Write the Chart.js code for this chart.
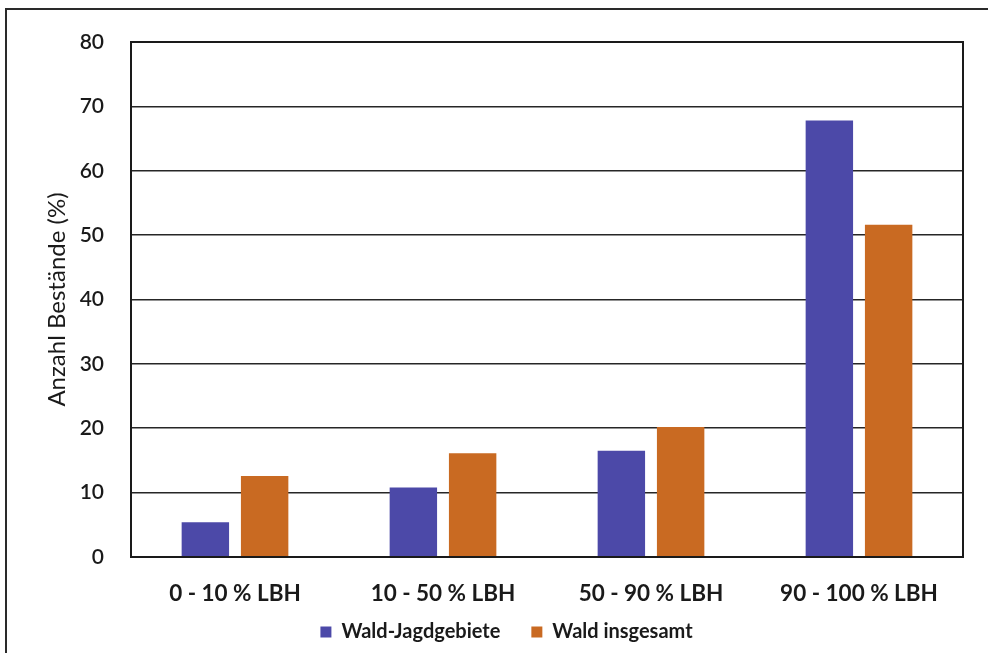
<!DOCTYPE html>
<html lang="de">
<head>
<meta charset="utf-8">
<title>Anzahl Bestände nach LBH-Klasse</title>
<script src="https://cdn.jsdelivr.net/npm/chart.js@4.4.1/dist/chart.umd.min.js"></script>
<style>
  html, body { margin: 0; padding: 0; background: #ffffff; }
  #wrap { position: relative; width: 988px; height: 653px; overflow: hidden; }
  #frame { position: absolute; left: 5px; top: 8px; width: 1000px; height: 700px;
           border-left: 2px solid #2a2a2a; border-top: 2px solid #2a2a2a; box-sizing: border-box; }
  canvas { position: absolute; left: 0; top: 0; }
</style>
</head>
<body>
<div id="wrap">
  <div id="frame"></div>
  <canvas id="chart" width="988" height="653"></canvas>
</div>
<script>
// LBH classes (Laubholzanteil) on the category axis
const categories = ['0 - 10 % LBH', '10 - 50 % LBH', '50 - 90 % LBH', '90 - 100 % LBH'];
// share of stands per class, in percent
const waldJagdgebiete = [5.4, 10.8, 16.5, 67.8];
const waldInsgesamt = [12.6, 16.1, 20.2, 51.6];
// value axis
const yTicks = [0, 10, 20, 30, 40, 50, 60, 70, 80];
const yTitle = 'Anzahl Bestände (%)';
const seriesNames = ['Wald-Jagdgebiete', 'Wald insgesamt'];

const FONT = "Lato, 'Open Sans', sans-serif";
const LEGEND_GAP = 31;

// outline the whole plotting area
const plotFrame = {
  id: 'plotFrame',
  afterDatasetsDraw(chart) {
    const { ctx, chartArea: a } = chart;
    ctx.save();
    ctx.strokeStyle = '#1a1a1a';
    ctx.lineWidth = 2;
    ctx.strokeRect(a.left, a.top, a.right - a.left, a.bottom - a.top);
    ctx.restore();
  }
};

// the category labels may run into the legend band; widen their clip box
const labelRoom = {
  id: 'labelRoom',
  afterLayout(chart) {
    chart.scales.x.bottom = chart.legend.bottom;
  }
};

new Chart(document.getElementById('chart'), {
  type: 'bar',
  data: {
    labels: categories,
    datasets: [
      { label: seriesNames[0], data: waldJagdgebiete, backgroundColor: '#4c49a8' },
      { label: seriesNames[1], data: waldInsgesamt, backgroundColor: '#c96a22' }
    ]
  },
  options: {
    responsive: false,
    animation: false,
    devicePixelRatio: 1,
    layout: { padding: { left: 50, top: 42, right: 25, bottom: 1 } },
    datasets: { bar: { categoryPercentage: 0.57, barPercentage: 0.8 } },
    scales: {
      x: {
        grid: { display: false },
        border: { display: true, color: '#1a1a1a', width: 2 },
        ticks: { color: '#1a1a1a', padding: 15, font: { family: FONT, size: 22.5, weight: 'bold' } },
        afterFit(scale) { scale.height = 65 - LEGEND_GAP; }
      },
      y: {
        min: 0,
        max: 80,
        afterBuildTicks(scale) { scale.ticks = yTicks.map(v => ({ value: v })); },
        grid: { color: '#262626', lineWidth: 1.6, drawTicks: false },
        border: { display: true, color: '#1a1a1a', width: 2 },
        ticks: { color: '#1a1a1a', padding: 27, font: { family: FONT, size: 21, weight: '600' } },
        title: { display: true, text: yTitle, color: '#1a1a1a', padding: { top: -7, bottom: 0 },
                 font: { family: FONT, size: 24 } },
        afterFit(scale) { scale.width = 81; }
      }
    },
    plugins: {
      legend: {
        position: 'bottom',
        labels: { color: '#1a1a1a', boxWidth: 11, boxHeight: 11, padding: LEGEND_GAP,
                  font: { family: FONT, size: 20, weight: 'bold' } }
      },
      tooltip: { enabled: false }
    }
  },
  plugins: [plotFrame, labelRoom]
});
</script>
</body>
</html>
